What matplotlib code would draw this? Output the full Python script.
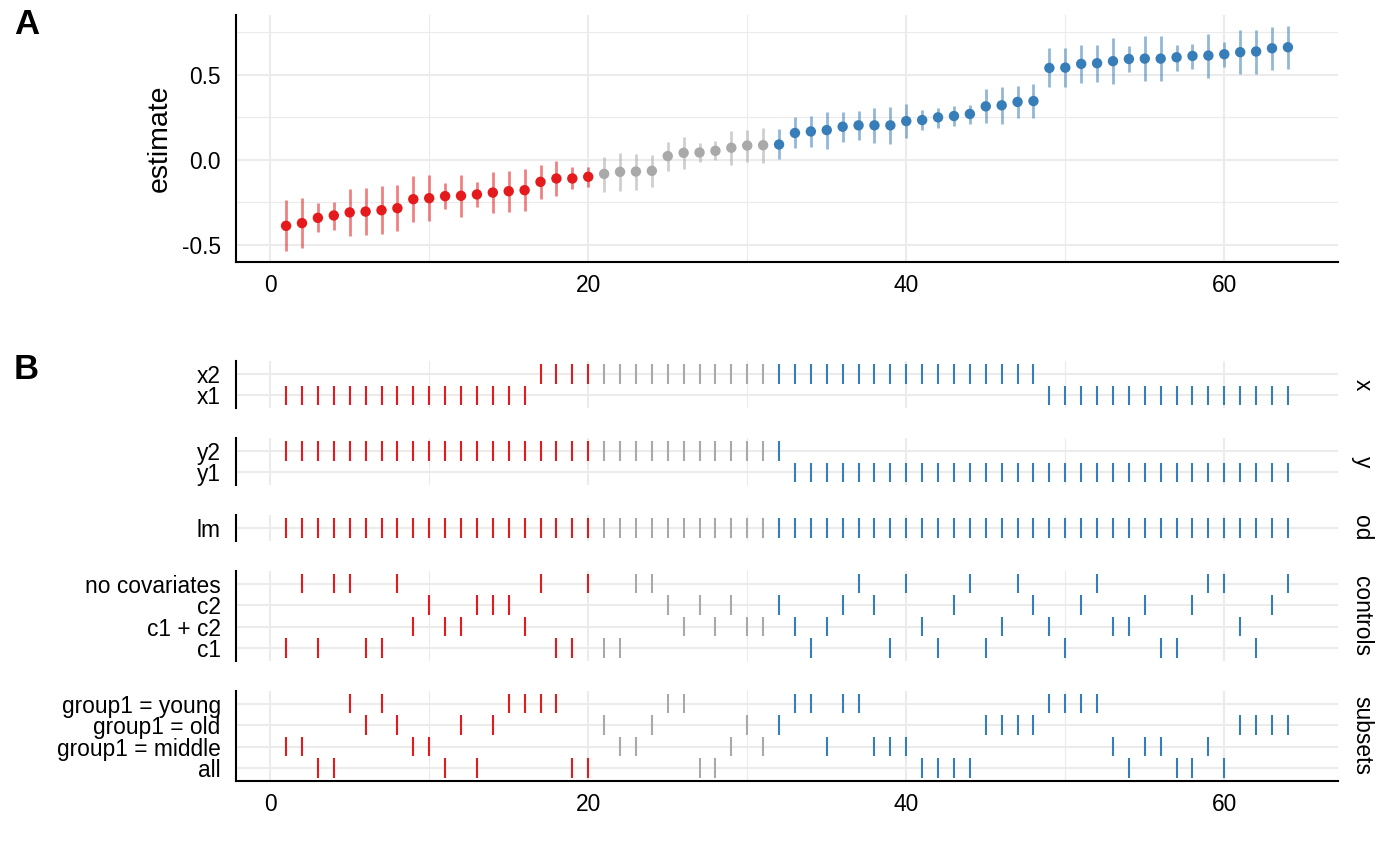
import matplotlib
matplotlib.use("Agg")
import matplotlib.pyplot as plt
import numpy as np

plt.rcParams["font.family"] = ["Liberation Sans", "DejaVu Sans"]

# specification results, sorted by estimate
spec = np.arange(1, 65)
estimate = [-0.389, -0.373, -0.342, -0.328, -0.310, -0.305, -0.297, -0.285,
            -0.232, -0.226, -0.214, -0.212, -0.204, -0.193, -0.185, -0.179,
            -0.130, -0.110, -0.110, -0.100, -0.083, -0.071, -0.069, -0.065,
            0.022, 0.041, 0.043, 0.053, 0.071, 0.084, 0.086, 0.090,
            0.158, 0.167, 0.175, 0.195, 0.203, 0.203, 0.203, 0.228,
            0.234, 0.250, 0.258, 0.270, 0.315, 0.321, 0.341, 0.346,
            0.541, 0.543, 0.565, 0.569, 0.581, 0.594, 0.596, 0.596,
            0.604, 0.612, 0.614, 0.622, 0.634, 0.638, 0.657, 0.663]
conf_low = [-0.536, -0.519, -0.424, -0.413, -0.450, -0.444, -0.440, -0.422,
            -0.369, -0.358, -0.291, -0.334, -0.279, -0.312, -0.305, -0.301,
            -0.228, -0.216, -0.171, -0.163, -0.189, -0.185, -0.175, -0.163,
            -0.065, -0.053, -0.010, -0.004, -0.028, -0.012, -0.016, 0.003,
            0.067, 0.077, 0.063, 0.104, 0.116, 0.098, 0.096, 0.126,
            0.173, 0.189, 0.201, 0.213, 0.215, 0.213, 0.244, 0.246,
            0.427, 0.431, 0.451, 0.457, 0.445, 0.516, 0.465, 0.465,
            0.526, 0.533, 0.484, 0.545, 0.504, 0.508, 0.528, 0.533]
conf_high = [-0.236, -0.226, -0.253, -0.246, -0.171, -0.167, -0.153, -0.147,
             -0.094, -0.092, -0.139, -0.090, -0.132, -0.071, -0.065, -0.057,
             -0.029, -0.006, -0.045, -0.041, 0.018, 0.041, 0.035, 0.031,
             0.106, 0.132, 0.098, 0.108, 0.167, 0.177, 0.189, 0.181,
             0.252, 0.256, 0.283, 0.283, 0.287, 0.305, 0.309, 0.327,
             0.295, 0.307, 0.317, 0.325, 0.417, 0.429, 0.433, 0.447,
             0.656, 0.656, 0.675, 0.677, 0.717, 0.669, 0.730, 0.732,
             0.679, 0.685, 0.742, 0.695, 0.762, 0.764, 0.785, 0.787]

# which specification uses which choice
x_x1 = list(range(1, 17)) + list(range(49, 65))
x_x2 = list(range(17, 49))
y_y1 = list(range(33, 65))
y_y2 = list(range(1, 33))
model_lm = list(range(1, 65))
ctrl_none = [2, 4, 5, 8, 17, 20, 23, 24, 37, 40, 44, 47, 52, 59, 60, 64]
ctrl_c2 = [10, 13, 14, 15, 25, 27, 29, 32, 36, 38, 43, 48, 51, 55, 58, 63]
ctrl_c1c2 = [9, 11, 12, 16, 26, 28, 30, 31, 33, 35, 41, 46, 49, 53, 54, 61]
ctrl_c1 = [1, 3, 6, 7, 18, 19, 21, 22, 34, 39, 42, 45, 50, 56, 57, 62]
sub_young = [5, 7, 15, 16, 17, 18, 25, 26, 33, 34, 36, 37, 49, 50, 51, 52]
sub_old = [6, 8, 12, 14, 21, 24, 30, 32, 45, 46, 47, 48, 61, 62, 63, 64]
sub_middle = [1, 2, 9, 10, 22, 23, 29, 31, 35, 38, 39, 40, 53, 55, 56, 59]
sub_all = [3, 4, 11, 13, 19, 20, 27, 28, 41, 42, 43, 44, 54, 57, 58, 60]

# facets: (strip label, [(row label, specs)] bottom to top)
facets = [
    ("x", [("x1", x_x1), ("x2", x_x2)]),
    ("y", [("y1", y_y1), ("y2", y_y2)]),
    ("od", [("lm", model_lm)]),
    ("controls", [("c1", ctrl_c1), ("c1 + c2", ctrl_c1c2),
                  ("c2", ctrl_c2), ("no covariates", ctrl_none)]),
    ("subsets", [("all", sub_all), ("group1 = middle", sub_middle),
                 ("group1 = old", sub_old), ("group1 = young", sub_young)]),
]

RED, GREY, BLUE = "#E41A1C", "#A9A9A9", "#377EB8"
est = np.array(estimate)
lo = np.array(conf_low)
hi = np.array(conf_high)
colors = np.where(hi < 0, RED, np.where(lo > 0, BLUE, GREY))

W, H = 1400, 866
TICK_FS = 16.4
GRID = "#EBEBEB"
XLIM = (-2.15, 67.15)


def rect(l, t, r, b):
    return [l / W, 1 - b / H, (r - l) / W, (b - t) / H]


def style_axes(ax, bottom):
    for s in ["top", "right"]:
        ax.spines[s].set_visible(False)
    ax.spines["left"].set_linewidth(1.5)
    ax.spines["bottom"].set_linewidth(1.5)
    ax.spines["bottom"].set_visible(bottom)
    ax.set_xlim(*XLIM)
    ax.set_xticks([0, 20, 40, 60])
    ax.set_xticks([10, 30, 50], minor=True)
    ax.tick_params(which="both", length=0, labelsize=TICK_FS, colors="black")
    ax.tick_params(axis="x", pad=9)
    ax.tick_params(axis="y", pad=11)
    ax.grid(which="major", axis="x", color=GRID, lw=1.5)
    ax.grid(which="minor", axis="x", color=GRID, lw=0.8)
    ax.set_axisbelow(True)
    if not bottom:
        ax.set_xticklabels([])


fig = plt.figure(figsize=(W / 100, H / 100), dpi=100)

# panel A
axA = fig.add_axes(rect(236, 15, 1338, 262))
style_axes(axA, True)
axA.set_ylim(-0.602, 0.853)
axA.set_yticks([-0.5, 0.0, 0.5])
axA.set_yticklabels(["-0.5", "0.0", "0.5"])
axA.set_yticks([-0.25, 0.25, 0.75], minor=True)
axA.grid(which="major", axis="y", color=GRID, lw=1.5)
axA.grid(which="minor", axis="y", color=GRID, lw=0.8)
axA.vlines(spec, lo, hi, colors=colors, lw=2.0, alpha=0.55)
axA.scatter(spec, est, c=colors, s=56, zorder=3, linewidths=0)
fig.text(160 / W, 1 - 138 / H, "estimate", rotation=90, ha="center",
         va="center", fontsize=20.5)
fig.text(14 / W, 1 - 8 / H, "A", fontsize=25, fontweight="bold",
         ha="left", va="top")

# panel B
unit = 21.5
gap = 29.75
top = 361
for i, (strip, rows) in enumerate(facets):
    n = len(rows)
    h = (n - 1 + 1.2) * unit
    last = i == len(facets) - 1
    ax = fig.add_axes(rect(236, top, 1338, top + h))
    style_axes(ax, last)
    ax.set_ylim(-0.6, n - 1 + 0.6)
    ax.set_yticks(range(n))
    ax.set_yticklabels([r[0] for r in rows])
    ax.grid(which="major", axis="y", color=GRID, lw=1.5)
    for j, (lab, specs) in enumerate(rows):
        idx = np.array(specs) - 1
        ax.vlines(spec[idx], j - 0.45, j + 0.45, colors=colors[idx], lw=1.5)
    fig.text(1362 / W, 1 - (top + h / 2) / H, strip, rotation=270,
             ha="center", va="center", fontsize=TICK_FS)
    top += h + gap

fig.text(14 / W, 1 - 353 / H, "B", fontsize=25, fontweight="bold",
         ha="left", va="top")

fig.savefig("out.png", dpi=100)
